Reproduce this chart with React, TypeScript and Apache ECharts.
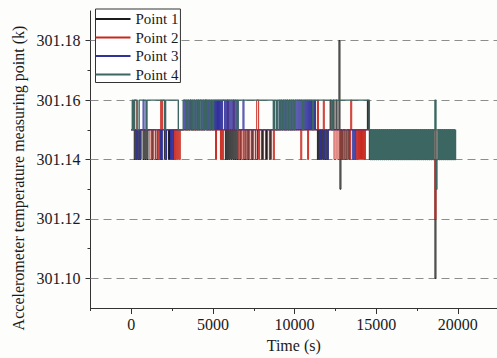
import React, { useEffect, useRef } from "react";
import * as echarts from "echarts";

// ---------- data ----------
// Sampling period of the reconstructed records (s)
const SAMPLE_SEC = 60;
// Level codes: value = 301.10 + digit / 100
const seriesNames = ["Point 1", "Point 2", "Point 3", "Point 4"];
const seriesColors = ["#1c1c1c", "#c9281f", "#31319c", "#3b6662"];

const xMajor = [0, 5000, 10000, 15000, 20000];
const xMinor = [-2500, 2500, 7500, 12500, 17500];
const yMajor = [301.1, 301.12, 301.14, 301.16, 301.18];
const yMinor = [301.11, 301.13, 301.15, 301.17];

// runs: [startIndex, endIndex, level digit]; marks: [startIndex, literal sample digits]
const p1Runs: [number, number, string][] = [[0, 242, "5"], [243, 331, "4"]];
const p1Marks: [number, string][] = [
  [3, "45454545"], [12, "4"], [14, "454"], [21, "4"], [25, "44"], [30, "4"], [34, "44"], [38, "4"],
  [96, "4545454545454"],
  [111, "4"], [115, "44"], [119, "4"], [123, "4"], [127, "44"], [133, "4"], [137, "4"], [141, "4"],
  [190, "454545454545"], [203, "6"], [206, "6"], [209, "6"],
  [212, "83"],
  [215, "4"], [218, "44"], [222, "4"],
  [241, "65"],
  [310, "0"],
];

const p2Runs: [number, number, string][] = [[0, 331, "5"]];
const p2Marks: [number, string][] = [
  [3, "66"], [19, "445544554"], [30, "6"], [32, "66"], [43, "45454545"],
  [60, "6"], [68, "6"], [75, "66"], [86, "4"], [91, "454"], [98, "6"], [104, "6"],
  [109, "4455445544554455445544554455445544554"],
  [128, "66"],
  [173, "4"], [180, "4"], [190, "6"], [196, "6"],
  [207, "4455445544554455445"],
  [224, "6"],
  [230, "454545454"],
  [310, "2"],
];

const p3Runs: [number, number, string][] = [[0, 244, "5"], [245, 331, "4"]];
const p3Marks: [number, string][] = [
  [5, "4"], [8, "4"], [12, "6"], [29, "4545"], [35, "4"], [40, "454"],
  [53, "5656565656565656" + "5665656565656565" + "6565656566565656" + "56565656"],
  [114, "6"],
  [150, "56565656565656565656565656565656565656"],
  [192, "4"], [196, "4"], [200, "4"], [226, "454"],
];

const p4Runs: [number, number, string][] = [[0, 242, "6"]];
const p4Marks: [number, string][] = [
  [0, "5656665566"], [15, "5"], [34, "5"], [48, "55555"],
  [54, "66566566566566566566566566566566"],
  [108, "5"],
  [145, "5665665665665665665665"],
  [175, "5"], [185, "5"], [205, "5"],
  [243,
    "54545454545454545454" +
    "54545454545454545454" +
    "54545454545454545454" +
    "54545454545454545454" +
    "545454545"],
  [310, "63"],
];

const runsList = [p1Runs, p2Runs, p3Runs, p4Runs];
const marksList = [p1Marks, p2Marks, p3Marks, p4Marks];
const lineWidths = [1, 1, 1, 1.4];

function buildSeries(runs: [number, number, string][], marks: [number, string][]) {
  const arr: string[] = [];
  for (const [s, e, c] of runs) for (let i = s; i <= e; i++) arr[i] = c;
  for (const [s, p] of marks) for (let k = 0; k < p.length; k++) arr[s + k] = p[k];
  const out: [number, number][] = [];
  arr.forEach((c, i) => {
    if (c !== undefined) out.push([i * SAMPLE_SEC, +(301.1 + Number(c) / 100).toFixed(2)]);
  });
  return out;
}

const FONT = "Liberation Serif";
const TXT = "#1a1a1a";
const AX = "#333333";

export default function App() {
  const ref = useRef<HTMLDivElement>(null);
  useEffect(() => {
    if (!ref.current) return;
    const chart = echarts.init(ref.current, null, { renderer: "svg" });
    const series: any[] = seriesNames.map((name, idx) => ({
      name,
      type: "line",
      step: "end",
      symbol: "none",
      silent: true,
      xAxisIndex: 0,
      yAxisIndex: 0,
      color: seriesColors[idx],
      lineStyle: { width: lineWidths[idx], color: seriesColors[idx] },
      emphasis: { disabled: true },
      data: buildSeries(runsList[idx], marksList[idx]),
      ...(idx === 0
        ? {
            markLine: {
              silent: true,
              z: 1,
              symbol: ["none", "none"],
              label: { show: false },
              lineStyle: { type: [8, 5], color: "#8d8d8d", width: 1.2 },
              data: yMajor.map((v) => ({ yAxis: v })),
            },
          }
        : {}),
    }));

    const option: any = {
      animation: false,
      backgroundColor: "#fdfdfc",
      textStyle: { fontFamily: FONT },
      grid: { left: 90.5, top: 11, right: 0, bottom: 45.5 },
      legend: {
        orient: "vertical",
        left: 95.5,
        top: 9,
        data: seriesNames.map((n) => ({ name: n, icon: "rect" })),
        selectedMode: false,
        itemWidth: 35,
        itemHeight: 2,
        itemGap: 2.5,
        padding: [2, 2, 0, 0],
        borderColor: AX,
        borderWidth: 1,
        backgroundColor: "#ffffff",
        textStyle: { fontFamily: FONT, fontSize: 15, color: TXT, lineHeight: 16 },
      },
      xAxis: [
        {
          type: "value",
          min: -2500,
          max: 22400,
          position: "bottom",
          name: "Time (s)",
          nameLocation: "middle",
          nameGap: 29,
          nameTextStyle: { fontFamily: FONT, fontSize: 16, color: TXT },
          axisLine: { show: true, onZero: false, lineStyle: { color: AX, width: 1 } },
          axisTick: { show: true, inside: false, length: 6, customValues: xMajor, lineStyle: { color: AX } },
          axisLabel: { customValues: xMajor, margin: 8, fontFamily: FONT, fontSize: 16, color: TXT, formatter: (v: number) => String(v) },
          splitLine: { show: false },
        },
        {
          type: "value",
          min: -2500,
          max: 22400,
          position: "bottom",
          axisLine: { show: false, onZero: false },
          axisTick: { show: true, inside: false, length: 3, customValues: xMinor, lineStyle: { color: AX } },
          axisLabel: { show: false },
          splitLine: { show: false },
        },
      ],
      yAxis: [
        {
          type: "value",
          min: 301.09,
          max: 301.19,
          position: "left",
          axisLine: { show: true, onZero: false, lineStyle: { color: AX, width: 1 } },
          axisTick: { show: true, inside: false, length: 5, customValues: yMajor, lineStyle: { color: AX } },
          axisLabel: { customValues: yMajor, margin: 10, fontFamily: FONT, fontSize: 16, color: TXT, formatter: (v: number) => v.toFixed(2) },
          splitLine: { show: false },
        },
        {
          type: "value",
          min: 301.09,
          max: 301.19,
          position: "left",
          axisLine: { show: false, onZero: false },
          axisTick: { show: true, inside: false, length: 3, customValues: yMinor, lineStyle: { color: AX } },
          axisLabel: { show: false },
          splitLine: { show: false },
        },
      ],
      graphic: [
        {
          type: "text",
          x: 18,
          y: 178,
          rotation: Math.PI / 2,
          style: {
            text: "Accelerometer temperature measuring point (k)",
            fontFamily: FONT,
            fontSize: 16,
            fill: TXT,
            align: "center",
            verticalAlign: "middle",
            textAlign: "center",
            textVerticalAlign: "middle",
          },
        },
      ],
      series,
    };
    chart.setOption(option);
    return () => chart.dispose();
  }, []);
  return <div ref={ref} style={{ position: "fixed", left: 0, top: 0, width: 497, height: 358 }} />;
}
